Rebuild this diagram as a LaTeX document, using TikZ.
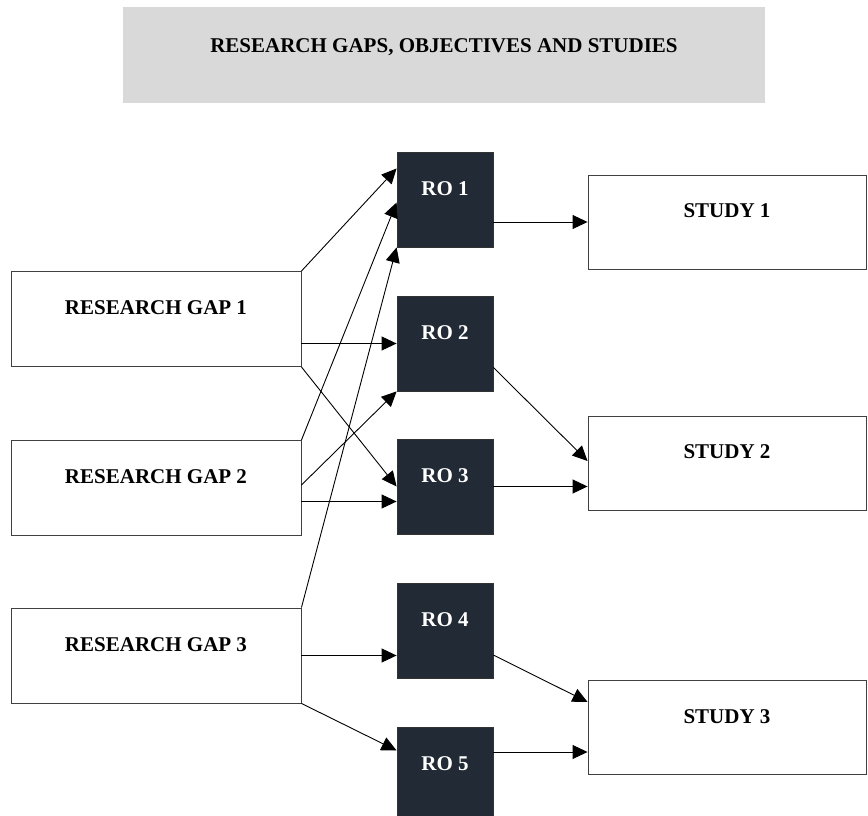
\documentclass[tikz,border=0pt]{standalone}
\usepackage{fontspec}
\setmainfont{Liberation Serif}
\usetikzlibrary{arrows.meta,calc}
\definecolor{titlegray}{HTML}{D9D9D9}
\definecolor{navyink}{HTML}{222A35}
\tikzset{
  boxline/.style={draw=black!75, line width=0.9pt},
  gapbox/.style={boxline, fill=white, minimum width=290pt, minimum height=95pt, inner sep=0pt},
  robox/.style={draw=black!80, line width=0.8pt, fill=navyink, minimum width=96pt, minimum height=95pt, inner sep=0pt},
  studybox/.style={boxline, fill=white, minimum width=278pt, minimum height=94pt, inner sep=0pt},
  titlebox/.style={fill=titlegray, minimum width=642pt, minimum height=96pt, inner sep=0pt},
  lbl/.style={font=\fontsize{21}{21}\selectfont\bfseries, inner sep=0pt, text height=13.9pt, text depth=0pt},
  rolbl/.style={lbl, text=white},
  titlelbl/.style={lbl},
  link/.style={draw=black, line width=0.9pt, -{Triangle[length=15pt,width=14pt]}}
}
\begin{document}
\begin{tikzpicture}[x=1pt,y=-1pt]
  \useasboundingbox (0,0) rectangle (868,816);
  \clip (0,0) rectangle (868,816);

  % heading
  \node[titlebox, label={[titlelbl,yshift=9.5pt]center:RESEARCH GAPS, OBJECTIVES AND STUDIES}] (title) at (444,55) {};

  % research gaps
  \node[gapbox, label={[lbl,yshift=11pt]center:RESEARCH GAP 1}] (g1) at (156,319) {};
  \node[gapbox, label={[lbl,yshift=11pt]center:RESEARCH GAP 2}] (g2) at (156,488) {};
  \node[gapbox, label={[lbl,yshift=11pt]center:RESEARCH GAP 3}] (g3) at (156,655.5) {};

  % research objectives
  \node[robox, label={[rolbl,yshift=11pt]center:RO 1}] (r1) at (445,199.5) {};
  \node[robox, label={[rolbl,yshift=11pt]center:RO 2}] (r2) at (445,343.5) {};
  \node[robox, label={[rolbl,yshift=11pt]center:RO 3}] (r3) at (445,486.5) {};
  \node[robox, label={[rolbl,yshift=11pt]center:RO 4}] (r4) at (445,631) {};
  \node[robox, label={[rolbl,yshift=11pt]center:RO 5}] (r5) at (445,774.5) {};

  % studies
  \node[studybox, label={[lbl,yshift=11pt]center:STUDY 1}] (s1) at (727,222) {};
  \node[studybox, label={[lbl,yshift=11pt]center:STUDY 2}] (s2) at (727,463) {};
  \node[studybox, label={[lbl,yshift=11pt]center:STUDY 3}] (s3) at (727,727.5) {};

  % gaps to objectives
  \draw[link] (g1.north east) -- ($(r1.west)+(0,-31)$);
  \draw[link] (g2.north east) -- ($(r1.west)+(0,3)$);
  \draw[link] (g3.north east) -- (r1.south west);
  \draw[link] (g1.east |- r2.west) -- (r2.west);
  \draw[link] (g1.south east) -- (r3.west);
  \draw[link] ($(g2.east)+(0,-3)$) -- (r2.south west);
  \draw[link] ($(g2.east)+(0,13.5)$) -- ($(r3.west)+(0,15)$);
  \draw[link] (g3.east) -- (g3.east -| r4.west);
  \draw[link] (g3.south east) -- ($(r5.west)+(0,-24)$);

  % objectives to studies
  \draw[link] (s1.west -| r1.east) -- (s1.west);
  \draw[link] ($(r2.east)+(0,24)$) -- ($(s2.west)+(0,-2)$);
  \draw[link] (r3.east) -- (r3.east -| s2.west);
  \draw[link] ($(r4.east)+(0,24)$) -- ($(s3.west)+(0,-25.5)$);
  \draw[link] ($(r5.east)+(0,-22.5)$) -- ($(s3.west)+(0,24.5)$);
\end{tikzpicture}
\end{document}
